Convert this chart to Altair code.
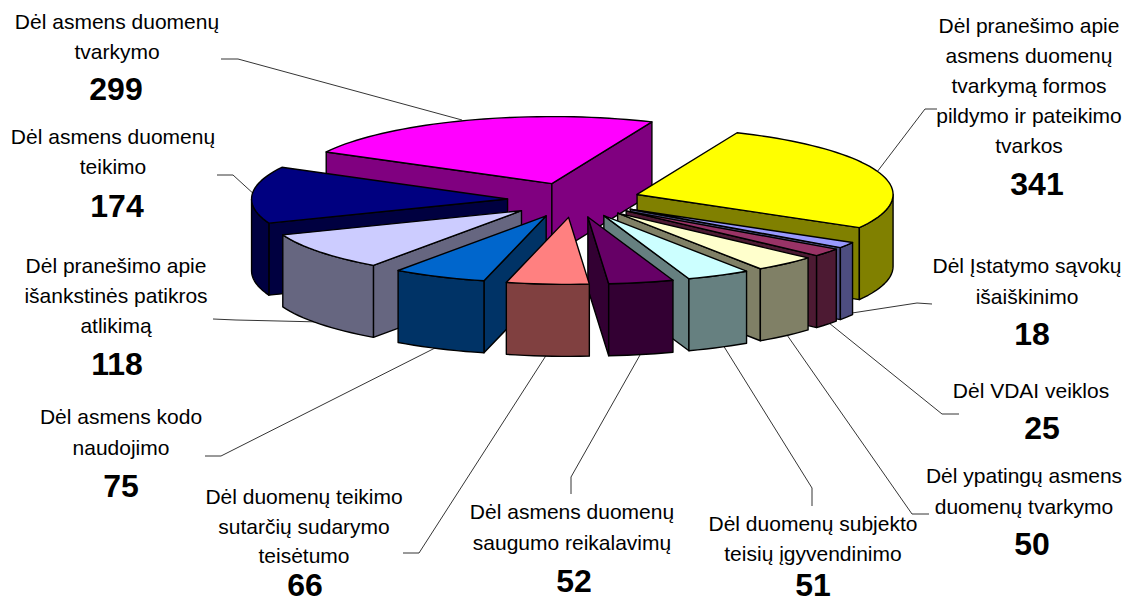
import math
import altair as alt
import pandas as pd

# ---- chart values, clockwise from the yellow slice
values = [341, 18, 25, 50, 51, 52, 66, 75, 118, 174, 299]
top_colors = ["#FFFF00", "#9999FF", "#993366", "#FFFFCC", "#CCFFFF", "#660066",
              "#FF8080", "#0066CC", "#CCCCFF", "#000080", "#FF00FF"]
side_colors = ["#808000", "#4D4D80", "#4D1A33", "#808066", "#668080", "#330033",
               "#804040", "#003366", "#666680", "#000040", "#800080"]
label_lines = [
    ["Dėl pranešimo apie", "asmens duomenų", "tvarkymą formos", "pildymo ir pateikimo", "tvarkos"],
    ["Dėl Įstatymo sąvokų", "išaiškinimo"],
    ["Dėl VDAI veiklos"],
    ["Dėl ypatingų asmens", "duomenų tvarkymo"],
    ["Dėl duomenų subjekto", "teisių įgyvendinimo"],
    ["Dėl asmens duomenų", "saugumo reikalavimų"],
    ["Dėl duomenų teikimo", "sutarčių sudarymo", "teisėtumo"],
    ["Dėl asmens kodo", "naudojimo"],
    ["Dėl pranešimo apie", "išankstinės patikros", "atlikimą"],
    ["Dėl asmens duomenų", "teikimo"],
    ["Dėl asmens duomenų", "tvarkymo"],
]

# ---- layout of the labels: centre x, y of each text line, x and y of the number
label_x = [1029, 1027, 1031, 1024, 813, 572, 304, 121, 116, 113, 117]
label_ys = [[27, 57, 87, 117, 147], [267, 298], [392], [477, 508], [525, 555], [513, 544],
            [498, 528, 557], [418, 449], [267, 297, 327], [138, 168], [23, 53]]
number_x = [1037, 1032, 1042, 1032, 813, 574, 305, 121, 117, 117, 116]
number_y = [185, 335, 429, 545, 586, 582, 586, 487, 365, 207, 90]
leaders = [
    [(937, 109), (925, 109), (877, 172)],
    [(932, 304), (917, 303), (852, 313)],
    [(959, 414), (942, 414), (829, 323)],
    [(929, 514), (912, 514), (787, 335)],
    [(812, 506), (812, 488), (723, 345)],
    [(571, 494), (571, 477), (640, 355)],
    [(403, 553), (419, 553), (547, 354)],
    [(205, 456), (221, 456), (437, 347)],
    [(213, 319), (236, 320), (321, 322)],
    [(217, 175), (233, 175), (256, 196)],
    [(221, 59), (238, 59), (462, 120)],
]

# ---- pie geometry
CX, CY = 574, 200   # pie centre in page pixels
A, B = 256, 67      # ellipse radii
H = 72              # thickness
EXPLODE = 0.26
START = 23.0        # angle of first slice, clockwise from 12 o'clock
OFFSET = 8          # page margin


def pt(ax, ay, theta, r=1.0, dy=0):
    t = math.radians(theta)
    return [ax + r * A * math.sin(t) - OFFSET, ay - r * B * math.cos(t) + dy - OFFSET]


total = sum(values)
slices = []
acc = START
for i, v in enumerate(values):
    sweep = v / total * 360
    slices.append((i, acc, acc + sweep))
    acc += sweep


def depth(s):
    return math.cos(math.radians((s[1] + s[2]) / 2))


features = []


def add(poly, fill):
    features.append({"type": "Feature", "properties": {"fill": fill},
                     "geometry": {"type": "Polygon", "coordinates": [poly + [poly[0]]]}})


for i, ts, te in sorted(slices, key=depth, reverse=True):
    mid = (ts + te) / 2
    ax = CX + EXPLODE * A * math.sin(math.radians(mid))
    ay = CY - EXPLODE * B * math.cos(math.radians(mid))
    apex, apex_low = [ax - OFFSET, ay - OFFSET], [ax - OFFSET, ay + H - OFFSET]
    # radial walls
    if math.sin(math.radians(ts)) < 0:
        add([apex, pt(ax, ay, ts), pt(ax, ay, ts, dy=H), apex_low], side_colors[i])
    if math.sin(math.radians(te)) > 0:
        add([apex, pt(ax, ay, te), pt(ax, ay, te, dy=H), apex_low], side_colors[i])
    # rim: only the part facing the viewer
    n = max(2, int((te - ts) / 2))
    thetas = [ts + (te - ts) * k / n for k in range(n + 1)]
    lo, hi = max(ts, 90), min(te, 270)
    if hi > lo:
        m = max(2, int((hi - lo) / 2))
        front = [lo + (hi - lo) * k / m for k in range(m + 1)]
        add([pt(ax, ay, t) for t in front] + [pt(ax, ay, t, dy=H) for t in reversed(front)],
            side_colors[i])
    # top face
    add([apex] + [pt(ax, ay, t) for t in thetas], top_colors[i])

pie = alt.Chart(alt.Data(values=features)).mark_geoshape(
    stroke="black", strokeWidth=1.4, strokeJoin="round"
).encode(
    fill=alt.Fill("properties.fill:N", scale=None, legend=None)
).project(type="identity", scale=1, translate=[0, 0])

# ---- leader lines
rows = []
for i, line in enumerate(leaders):
    for k, (x, y) in enumerate(line):
        rows.append({"id": i, "k": k, "x": x - OFFSET, "y": y - OFFSET})
lead = alt.Chart(pd.DataFrame(rows)).mark_line(color="black", strokeWidth=0.8).encode(
    x=alt.X("x:Q", scale=None, axis=None),
    y=alt.Y("y:Q", scale=None, axis=None),
    detail="id:N",
    order="k:Q",
)

# ---- texts
text_rows = []
for i, lines in enumerate(label_lines):
    for s, y in zip(lines, label_ys[i]):
        text_rows.append({"x": label_x[i] - OFFSET, "y": y - OFFSET, "t": s})
num_rows = [{"x": nx - OFFSET, "y": ny - OFFSET, "t": str(v)}
            for nx, ny, v in zip(number_x, number_y, values)]
FONT = "Liberation Sans"
labels = alt.Chart(pd.DataFrame(text_rows)).mark_text(
    font=FONT, fontSize=21, align="center", baseline="middle", color="black"
).encode(x=alt.X("x:Q", scale=None, axis=None), y=alt.Y("y:Q", scale=None, axis=None), text="t:N")
numbers = alt.Chart(pd.DataFrame(num_rows)).mark_text(
    font=FONT, fontSize=32, fontWeight="bold", align="center", baseline="middle", color="black"
).encode(x=alt.X("x:Q", scale=None, axis=None), y=alt.Y("y:Q", scale=None, axis=None), text="t:N")

chart = alt.layer(lead, pie, labels, numbers).properties(
    width=1115, height=594, padding=0,
    autosize=alt.AutoSizeParams(type="none"),
    background="white",
).configure_view(stroke=None)

chart.save("out.html", embed_options={"renderer": "svg", "actions": False})
